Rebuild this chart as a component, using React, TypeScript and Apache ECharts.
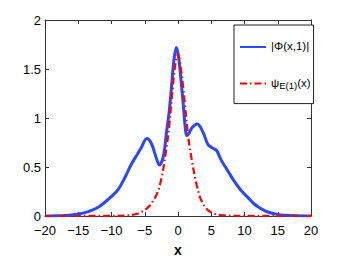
import React, { useEffect, useRef } from "react";
import * as echarts from "echarts";

const phiX = [-20, -18, -17, -16, -15, -14, -13, -12, -11, -10, -9, -8, -7, -6.2, -5.5, -4.7, -4, -3.2, -2.8, -2.2, -1.7, -1.35, -1, -0.6, -0.25, 0.1, 0.5, 0.8, 1.05, 1.3, 1.6, 2.1, 2.9, 3.8, 4.5, 5.3, 5.8, 6.5, 7.5, 8.5, 9.5, 10.5, 11.5, 12.5, 13, 14, 15, 16, 18, 20];
const phiY = [0, 0.002, 0.005, 0.01, 0.02, 0.035, 0.058, 0.09, 0.14, 0.2, 0.27, 0.39, 0.53, 0.62, 0.7, 0.79, 0.74, 0.58, 0.52, 0.61, 0.87, 1.05, 1.3, 1.6, 1.72, 1.62, 1.35, 1.13, 0.93, 0.82, 0.84, 0.9, 0.94, 0.85, 0.73, 0.69, 0.67, 0.57, 0.46, 0.35, 0.26, 0.19, 0.12, 0.075, 0.055, 0.03, 0.015, 0.008, 0.002, 0];

const psiX = [-20, -10, -8, -7, -6, -5, -4.2, -3.2, -2.5, -1.85, -1.35, -0.8, -0.4, 0, 0.4, 0.8, 1.05, 1.55, 2.05, 2.8, 3.5, 4.5, 5.8, 7, 8, 10, 20];
const psiY = [0, 0.001, 0.005, 0.01, 0.026, 0.06, 0.11, 0.22, 0.38, 0.64, 0.9, 1.3, 1.55, 1.65, 1.52, 1.3, 1.13, 0.8, 0.58, 0.32, 0.16, 0.06, 0.016, 0.006, 0.003, 0.001, 0];

const xTicks = { min: -20, max: 20, interval: 5 };
const yTicks = { min: 0, max: 2, interval: 0.5 };
const seriesNames = ["|Φ(x,1)|", "ψ_E(1)(x)"];

const FONT = "'Liberation Sans', Arial, sans-serif";
const AX = "#333";

export default function App() {
  const ref = useRef<HTMLDivElement>(null);
  useEffect(() => {
    if (!ref.current) return;
    const chart = echarts.init(ref.current, undefined, { renderer: "svg" });
    const fmt = (v: number) => String(v).replace("-", "\u2212");
    const axisCommon = {
      axisLine: { show: true, onZero: false, lineStyle: { color: AX, width: 1 } },
      axisTick: { show: true, inside: true, length: 4, lineStyle: { color: AX } },
      splitLine: { show: false },
    };
    chart.setOption({
      animation: false,
      backgroundColor: "#fff",
      grid: { left: 45, top: 20, width: 266, height: 206, containLabel: false },
      xAxis: [
        {
          type: "value", ...xTicks, ...axisCommon,
          name: "x", nameLocation: "middle", nameGap: 27,
          nameTextStyle: { fontFamily: FONT, fontSize: 14, fontWeight: "bold", color: "#000" },
          axisLabel: { fontFamily: FONT, fontSize: 13, lineHeight: 14, color: "#000", margin: 7, formatter: fmt },
        },
        {
          type: "value", position: "top", ...xTicks, ...axisCommon,
          axisLabel: { show: false },
        },
      ],
      yAxis: [
        {
          type: "value", ...yTicks, ...axisCommon,
          axisLabel: { fontFamily: FONT, fontSize: 13, lineHeight: 12, color: "#000", margin: 4 },
        },
        {
          type: "value", position: "right", ...yTicks, ...axisCommon,
          axisLabel: { show: false },
        },
      ],
      legend: {
        orient: "vertical",
        left: 234,
        top: 25,
        padding: [15, 3, 13, 5],
        itemGap: 17,
        itemWidth: 26,
        itemHeight: 14,
        borderColor: "#222",
        borderWidth: 1,
        backgroundColor: "#fff",
        itemStyle: { opacity: 0 },
        data: seriesNames,
        formatter: (name: string) =>
          name === seriesNames[1] ? "{a|ψ}{s|E(1)}{a|(x)}" : "{a|" + name + "}",
        textStyle: {
          fontFamily: FONT,
          fontSize: 11.5,
          color: "#000",
          rich: {
            a: { fontFamily: FONT, fontSize: 11.5, color: "#000", lineHeight: 14, verticalAlign: "top" },
            s: { fontFamily: FONT, fontSize: 9.5, color: "#000", lineHeight: 11, padding: [11, 0, 0, 0], verticalAlign: "bottom" },
          },
        },
      },
      series: [
        {
          name: seriesNames[0],
          type: "line",
          data: phiX.map((x, i) => [x, phiY[i]]),
          smooth: 0.35,
          showSymbol: false,
          symbol: "none",
          lineStyle: { color: "#2a48ff", width: 3 },
          itemStyle: { color: "#2a48ff" },
          z: 2,
        },
        {
          name: seriesNames[1],
          type: "line",
          data: psiX.map((x, i) => [x, psiY[i]]),
          smooth: 0.35,
          showSymbol: false,
          symbol: "none",
          lineStyle: { color: "#ff0000", width: 2.2, type: [7, 3, 1.5, 3] },
          itemStyle: { color: "#ff0000" },
          z: 3,
        },
      ],
    });
    return () => chart.dispose();
  }, []);
  return <div ref={ref} style={{ width: 343, height: 262, position: "absolute", left: 0, top: 0 }} />;
}
